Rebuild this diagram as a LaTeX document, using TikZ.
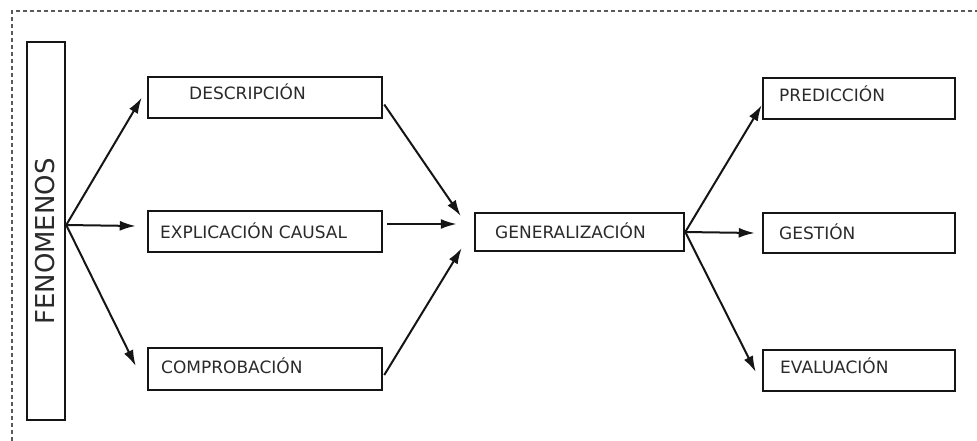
\documentclass[tikz,border=0pt]{standalone}
\usepackage{fontspec}
\setmainfont{DejaVu Sans}
\usetikzlibrary{arrows.meta,calc}
\definecolor{txt}{HTML}{2A2A2A}
\definecolor{ln}{HTML}{151515}
\tikzset{
  box/.style={draw=ln, line width=2.5pt, inner sep=0pt, minimum height=41pt},
  lbl/.style={anchor=base west, inner sep=0pt, text=txt, font=\fontsize{17}{20}\selectfont},
  conn/.style={draw=ln, line width=2pt, -{Latex[length=16pt,width=10pt]}},
  frame/.style={draw=black!65, line width=1.6pt, dash pattern=on 4pt off 3pt}
}
\begin{document}
\begin{tikzpicture}[x=1pt,y=-1pt]
\useasboundingbox (0,0) rectangle (977,440);
\fill[white] (0,0) rectangle (977,440);
% frame (only top and left visible)
\draw[frame] (1000,11) -- (12,11) -- (12,460);
% boxes
\node[box, minimum width=38pt, minimum height=378pt] (fen) at (46,231) {};
\node[rotate=90, inner sep=0pt, text=txt, font=\fontsize{26}{30}\selectfont] (fentxt) at (45.5,241.5) {FENOMENOS};
\node[box, minimum width=234pt] (desc) at (265,97.5) {};
\node[box, minimum width=234pt] (expl) at (265,231.5) {};
\node[box, minimum width=234pt, minimum height=42pt] (comp) at (265,369) {};
\node[box, minimum width=209pt, minimum height=38pt] (gen) at (579.5,232) {};
\node[box, minimum width=192pt] (pred) at (859,98.5) {};
\node[box, minimum width=192pt, minimum height=40pt] (gest) at (859,233) {};
\node[box, minimum width=192pt] (eval) at (859,370.5) {};
% labels
\node[lbl] (desct) at (189,99) {DESCRIPCIÓN};
\node[lbl] (explt) at (160,238) {EXPLICACIÓN CAUSAL};
\node[lbl] (compt) at (161,373) {COMPROBACIÓN};
\node[lbl] (gent) at (495,238) {GENERALIZACIÓN};
\node[lbl] (predt) at (779,101) {PREDICCIÓN};
\node[lbl] (gestt) at (779,239) {GESTIÓN};
\node[lbl] (evalt) at (780,373) {EVALUACIÓN};
% connectors
\draw[conn] ([yshift=6pt]fen.east) -- ([xshift=-5pt]desc.west);
\draw[conn] ([yshift=6pt]fen.east) -- ([xshift=-11pt,yshift=5.5pt]expl.west);
\draw[conn] ([yshift=6pt]fen.east) -- ([xshift=-11pt,yshift=3pt]comp.west);
\draw[conn] ([xshift=1pt,yshift=-7pt]desc.east) -- ([xshift=-13pt,yshift=16pt]gen.west);
\draw[conn] ([xshift=4pt,yshift=7.5pt]expl.east) -- ([xshift=-17pt,yshift=8pt]gen.west);
\draw[conn] ([xshift=1pt,yshift=-6pt]comp.east) -- ([xshift=-12pt,yshift=-16pt]gen.west);
\draw[conn] (gen.east) -- ([yshift=-6.5pt]pred.west);
\draw[conn] (gen.east) -- ([xshift=-7pt]gest.west);
\draw[conn] (gen.east) -- ([xshift=-6pt,yshift=-1.5pt]eval.west);
\end{tikzpicture}
\end{document}
